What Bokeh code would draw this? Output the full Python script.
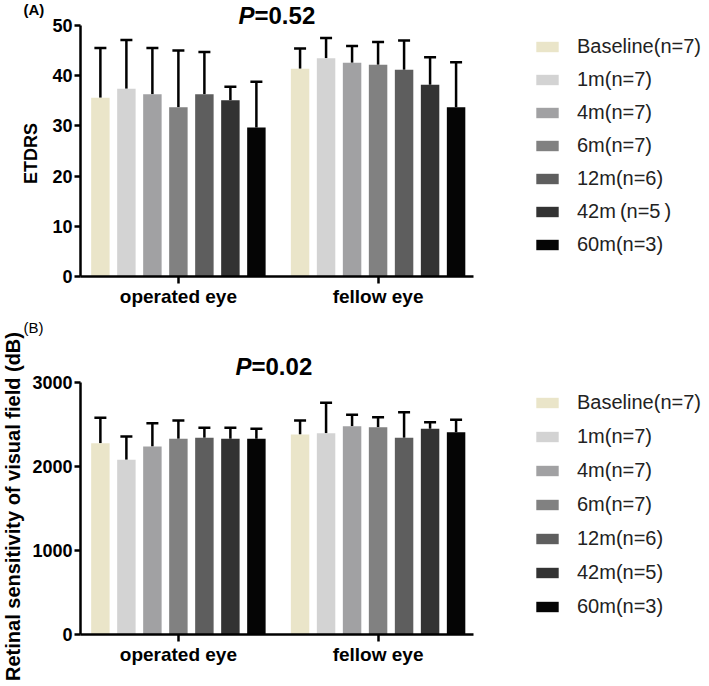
import math
from bokeh.plotting import figure
from bokeh.models import (FixedTicker, Whisker, TeeHead, ColumnDataSource, Legend,
                          LegendItem, Label, Range1d)
from bokeh.layouts import column
from bokeh.embed import file_html
from bokeh.resources import INLINE

# ---------------- data ----------------
groups = ["operated eye", "fellow eye"]
series_top = ["Baseline(n=7)", "1m(n=7)", "4m(n=7)", "6m(n=7)", "12m(n=6)", "42m\u2009(n=5\u2009)", "60m(n=3)"]
series_bottom = ["Baseline(n=7)", "1m(n=7)", "4m(n=7)", "6m(n=7)", "12m(n=6)", "42m(n=5)", "60m(n=3)"]
colors = ["#EAE5C9", "#D3D3D3", "#A1A1A3", "#818181", "#5E5E5E", "#333333", "#050505"]

etdrs_mean_operated = [35.6, 37.4, 36.3, 33.7, 36.3, 35.1, 29.7]
etdrs_sd_operated = [9.9, 9.7, 9.2, 11.3, 8.4, 2.7, 9.1]
etdrs_mean_fellow = [41.4, 43.5, 42.6, 42.2, 41.2, 38.2, 33.7]
etdrs_sd_fellow = [4.0, 4.0, 3.3, 4.5, 5.8, 5.5, 9.0]

rs_mean_operated = [2281, 2083, 2242, 2333, 2345, 2333, 2333]
rs_sd_operated = [302, 278, 277, 218, 119, 131, 119]
rs_mean_fellow = [2385, 2400, 2484, 2472, 2345, 2452, 2412]
rs_sd_fellow = [166, 362, 135, 119, 305, 79, 148]

etdrs_ticks = [0, 10, 20, 30, 40, 50]
rs_ticks = [0, 1000, 2000, 3000]

# ---------------- layout constants ----------------
FONT = "Liberation Sans"
GROUP_STEP = 7.68
BAR_W = 0.71
W = 709
AX_X0, AX_X1 = -0.765, 14.35      # extent of the x axis (data units)
PLOT_L, PLOT_W = 80, 393          # pixel position/size of the axis box


def make_panel(height, plot_top, plot_h, mean_op, sd_op, mean_fel, sd_fel,
               labels, yticks, ylabel, ylabel_size, ylabel_pos, ptext, p_pos,
               panel_tag, tag_bold, tag_pos, legend_vy, legend_spacing):
    # the frame covers the whole canvas; axes are pinned with fixed_location
    px_per_x = PLOT_W / (AX_X1 - AX_X0)
    x0 = AX_X0 - PLOT_L / px_per_x
    x1 = x0 + W / px_per_x
    ymax = yticks[-1]
    px_per_y = plot_h / ymax
    plot_bottom = plot_top + plot_h
    y1 = plot_bottom / px_per_y
    y0 = -(height - plot_bottom) / px_per_y

    p = figure(width=W, height=height, output_backend="svg", toolbar_location=None,
               title=None, x_range=Range1d(x0, x1), y_range=Range1d(y0, y1),
               min_border_left=0, min_border_right=0,
               min_border_top=0, min_border_bottom=0)
    p.outline_line_color = None
    p.xgrid.visible = False
    p.ygrid.visible = False
    p.background_fill_color = "white"
    p.border_fill_color = "white"

    renderers = []
    for j in range(len(labels)):
        xs = [j + g * GROUP_STEP for g in range(len(groups))]
        tops = [mean_op[j], mean_fel[j]]
        uppers = [mean_op[j] + sd_op[j], mean_fel[j] + sd_fel[j]]
        src = ColumnDataSource(dict(x=xs, top=tops, upper=uppers))
        r = p.vbar(x="x", top="top", bottom=0, width=BAR_W, source=src,
                   fill_color=colors[j], line_color=None)
        renderers.append(r)
        wh = Whisker(source=src, base="x", lower="top", upper="upper", dimension="height",
                     line_color="black", line_width=2.5,
                     upper_head=TeeHead(size=12, line_width=2.5, line_color="black"),
                     lower_head=None)
        p.add_layout(wh)

    centers = [3 + g * GROUP_STEP for g in range(len(groups))]
    p.xaxis.fixed_location = 0
    p.xaxis.bounds = (AX_X0, AX_X1)
    p.xaxis.ticker = FixedTicker(ticks=centers)
    p.xaxis.major_label_overrides = {c: g for c, g in zip(centers, groups)}
    p.xaxis.minor_tick_line_color = None
    p.xaxis.major_tick_in = 0
    p.xaxis.major_tick_out = 7
    p.xaxis.major_label_standoff = 2
    p.xaxis.major_label_text_font = FONT
    p.xaxis.major_label_text_font_style = "bold"
    p.xaxis.major_label_text_font_size = "19px"
    p.xaxis.major_label_text_color = "black"

    p.yaxis.fixed_location = AX_X0
    p.yaxis.bounds = (0, ymax)
    p.yaxis.ticker = FixedTicker(ticks=yticks)
    p.yaxis.minor_tick_line_color = None
    p.yaxis.major_tick_in = 0
    p.yaxis.major_tick_out = 6
    p.yaxis.major_label_standoff = 2
    p.yaxis.major_label_text_font = FONT
    p.yaxis.major_label_text_font_style = "bold"
    p.yaxis.major_label_text_font_size = "18px"
    p.yaxis.major_label_text_color = "black"

    for ax in (p.xaxis, p.yaxis):
        ax.axis_line_width = 2.5
        ax.axis_line_color = "black"
        ax.major_tick_line_width = 2.5
        ax.major_tick_line_color = "black"

    # y axis title (rotated)
    p.add_layout(Label(x=ylabel_pos[0], y=height - ylabel_pos[1], x_units="screen",
                       y_units="screen", text=ylabel, angle=math.pi / 2,
                       text_font=FONT, text_font_style="bold", text_font_size=ylabel_size,
                       text_align="center", text_baseline="middle", text_color="black"))

    # P value title (screen units, measured from the canvas bottom-left)
    p.add_layout(Label(x=p_pos[0], y=height - p_pos[1], x_units="screen", y_units="screen",
                       text="P", text_font=FONT, text_font_style="bold italic",
                       text_font_size="24px", text_baseline="middle", text_color="black"))
    p.add_layout(Label(x=p_pos[0] + 16, y=height - p_pos[1], x_units="screen",
                       y_units="screen", text=ptext, text_font=FONT,
                       text_font_style="bold", text_font_size="24px",
                       text_baseline="middle", text_color="black"))
    # panel tag
    p.add_layout(Label(x=tag_pos[0], y=height - tag_pos[1], x_units="screen", y_units="screen",
                       text=panel_tag, text_font=FONT,
                       text_font_style="bold" if tag_bold else "normal",
                       text_font_size="15px", text_baseline="middle", text_color="black"))

    legend = Legend(items=[LegendItem(label=l, renderers=[r]) for l, r in zip(labels, renderers)],
                    location=(533, legend_vy), orientation="vertical",
                    glyph_width=28, glyph_height=13, label_standoff=16, label_height=24,
                    spacing=legend_spacing, padding=0, margin=0,
                    border_line_alpha=0, background_fill_alpha=0,
                    label_text_font=FONT, label_text_font_size="20px",
                    label_text_color="#222222")
    p.add_layout(legend)
    return p


p1 = make_panel(312, 25, 251, etdrs_mean_operated, etdrs_sd_operated, etdrs_mean_fellow,
                etdrs_sd_fellow, series_top, etdrs_ticks, "ETDRS", "18px", (30, 153),
                "=0.52", (238, 15), "(A)", True, (23, 9), 56, 9)
p2 = make_panel(373, 70.3, 252, rs_mean_operated, rs_sd_operated, rs_mean_fellow,
                rs_sd_fellow, series_bottom, rs_ticks,
                "Retinal sensitivity of visual field (dB)", "20px", (12, 194),
                "=0.02", (235, 54), "(B)", False, (23, 15), 66.75, 10)

layout = column(p1, p2)
open("out.html", "w").write(file_html(layout, INLINE))
